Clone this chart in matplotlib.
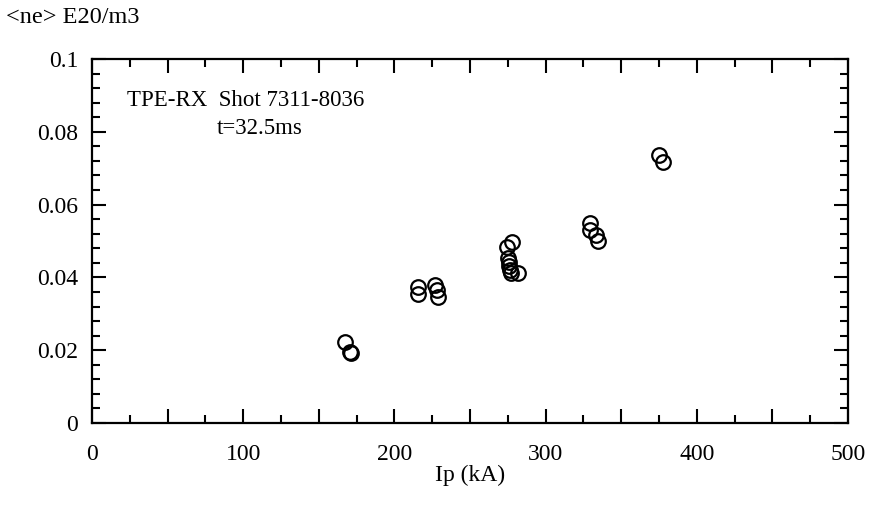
import matplotlib
matplotlib.use("Agg")
import matplotlib.pyplot as plt
from matplotlib.ticker import MultipleLocator, FuncFormatter

# plasma current (kA) and line averaged density (E20/m3)
ip_ka = [167.3, 170.6, 171.0,
         215.6, 215.6, 226.9, 228.2, 228.8,
         277.8, 274.5, 275.0, 275.5, 276.0, 276.2, 277.0, 281.7,
         329.4, 329.4, 333.3, 334.7,
         375.0, 377.6]
ne = [0.0223, 0.0195, 0.0192,
      0.0374, 0.0354, 0.0379, 0.0365, 0.0346,
      0.0497, 0.0484, 0.0453, 0.0442, 0.0431, 0.0420, 0.0412, 0.0412,
      0.0549, 0.0530, 0.0516, 0.0500,
      0.0736, 0.0717]

plt.rcParams['font.family'] = ['Liberation Serif', 'DejaVu Serif']
fs = 17

fig = plt.figure(figsize=(8.8, 5.11), dpi=100)
ax = fig.add_axes([0.1045, 0.1722, 0.8591, 0.7123])

ax.plot(ip_ka, ne, linestyle='none', marker='o', markersize=10.5,
        markerfacecolor='none', markeredgecolor='black', markeredgewidth=1.6)

ax.set_xlim(0, 500)
ax.set_ylim(0, 0.1)

ax.xaxis.set_major_locator(MultipleLocator(50))
ax.xaxis.set_minor_locator(MultipleLocator(25))
ax.xaxis.set_major_formatter(FuncFormatter(lambda v, p: '%d' % v if v % 100 == 0 else ''))
ax.yaxis.set_major_locator(MultipleLocator(0.02))
ax.yaxis.set_minor_locator(MultipleLocator(0.004))
ax.yaxis.set_major_formatter(FuncFormatter(lambda v, p: '0' if v == 0 else ('%g' % round(v, 3))))

ax.tick_params(which='both', direction='in', top=True, right=True, width=1.5, labelsize=fs)
ax.tick_params(which='major', length=10)
ax.tick_params(which='minor', length=5.5)
ax.tick_params(axis='x', pad=15)
ax.tick_params(axis='y', pad=10)
for s in ax.spines.values():
    s.set_linewidth(1.6)

ax.set_xlabel('Ip (kA)', fontsize=fs, labelpad=0)
fig.text(0.007, 0.966, '<ne> E20/m3', fontsize=17.5, va='center', ha='left')

ax.text(0.046, 0.885, 'TPE-RX  Shot 7311-8036', transform=ax.transAxes, fontsize=16.5, va='center')
ax.text(0.165, 0.81, 't=32.5ms', transform=ax.transAxes, fontsize=16.5, va='center')

fig.savefig('out.png', dpi=100)
